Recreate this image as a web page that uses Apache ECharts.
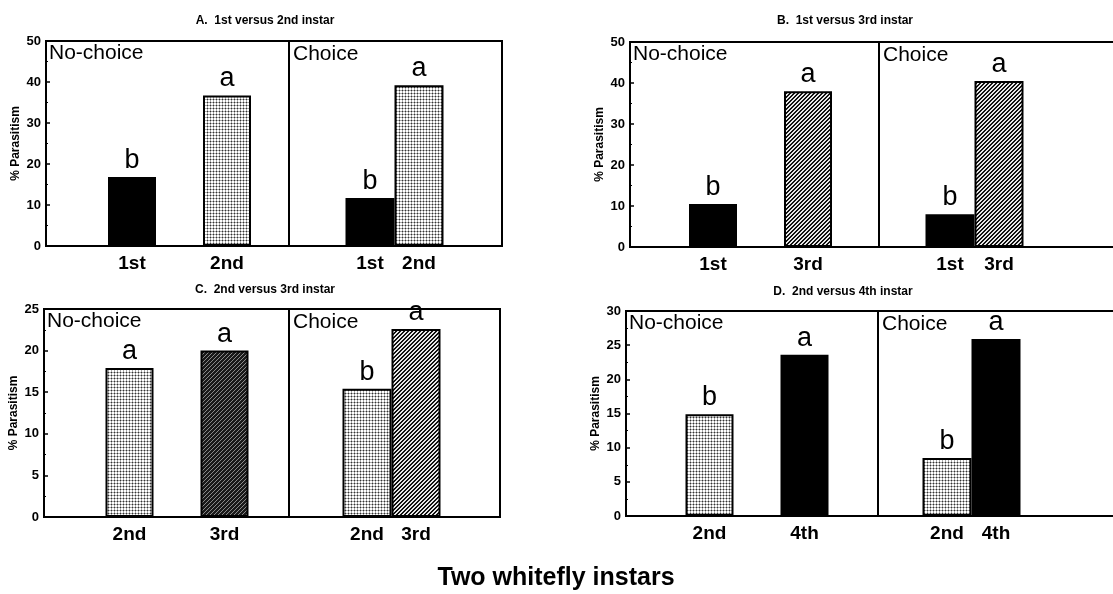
<!DOCTYPE html>
<html>
<head>
<meta charset="utf-8">
<script src="https://cdn.jsdelivr.net/npm/echarts@6/dist/echarts.min.js"></script>
<style>
  html, body { margin: 0; padding: 0; background: #fff; }
  #chart { width: 1113px; height: 594px; }
</style>
</head>
<body>
<div id="chart"></div>
<script>
// panel titles and y scales
const panelTitles = ['A.  1st versus 2nd instar', 'B.  1st versus 3rd instar', 'C.  2nd versus 3rd instar', 'D.  2nd versus 4th instar']
const yMax = [50, 50, 25, 30]
const yInterval = [10, 10, 5, 5]

// instars compared in each panel
const instarsA = ['1st', '2nd']
const instarsB = ['1st', '3rd']
const instarsC = ['2nd', '3rd']
const instarsD = ['2nd', '4th']

// % parasitism, no-choice and choice
const noChoiceA = [16.8, 36.7]
const choiceA = [11.7, 39.2]
const noChoiceB = [10.5, 38.0]
const choiceB = [8.0, 40.5]
const noChoiceC = [17.9, 20.0]
const choiceC = [15.4, 22.6]
const noChoiceD = [14.9, 23.6]
const choiceD = [8.5, 25.9]

// significance letters
const lettersNoChoiceA = ['b', 'a']
const lettersChoiceA = ['b', 'a']
const lettersNoChoiceB = ['b', 'a']
const lettersChoiceB = ['b', 'a']
const lettersNoChoiceC = ['a', 'a']
const lettersChoiceC = ['b', 'a']
const lettersNoChoiceD = ['b', 'a']
const lettersChoiceD = ['b', 'a']

const mainTitle = 'Two whitefly instars'

const panels = [
  { instars: instarsA, nc: noChoiceA, ch: choiceA, lnc: lettersNoChoiceA, lch: lettersChoiceA },
  { instars: instarsB, nc: noChoiceB, ch: choiceB, lnc: lettersNoChoiceB, lch: lettersChoiceB },
  { instars: instarsC, nc: noChoiceC, ch: choiceC, lnc: lettersNoChoiceC, lch: lettersChoiceC },
  { instars: instarsD, nc: noChoiceD, ch: choiceD, lnc: lettersNoChoiceD, lch: lettersChoiceD },
]

// layout (px): box left, divider, box right, top, bottom, bar grid lefts
// open: the box runs off the right edge of the page
const layout = [
  { left: 46, mid: 289, right: 502, top: 41, bottom: 246, ncLeft: 84.5, chLeft: 345.5, tx: 265, ty: 21, open: false },
  { left: 630, mid: 879, right: 1200, top: 42, bottom: 247, ncLeft: 665.5, chLeft: 925.5, tx: 845, ty: 21, open: true },
  { left: 44, mid: 289, right: 500, top: 309, bottom: 517, ncLeft: 82, chLeft: 342.5, tx: 265, ty: 290, open: false },
  { left: 626, mid: 878, right: 1200, top: 311, bottom: 516, ncLeft: 662, chLeft: 922.5, tx: 843, ty: 292, open: true },
]

const FONT = 'Liberation Sans'

function makePattern(size, paint) {
  const c = document.createElement('canvas')
  c.width = size
  c.height = size
  const g = c.getContext('2d')
  paint(g)
  return { image: c, repeat: 'repeat' }
}

const stipple = makePattern(3, (g) => {
  g.fillStyle = '#fff'
  g.fillRect(0, 0, 3, 3)
  g.fillStyle = '#a8a8a8'
  g.fillRect(0, 0, 3, 1)
  g.fillRect(0, 0, 1, 3)
  g.fillStyle = '#333'
  g.fillRect(0, 0, 1, 1)
})
const hatch = makePattern(4, (g) => {
  g.fillStyle = '#e8e8e8'
  g.fillRect(0, 0, 4, 4)
  g.fillStyle = '#111'
  for (let x = 0; x < 4; x++) {
    for (let y = 0; y < 4; y++) {
      if ((x + y) % 4 === 2 || (x + y) % 4 === 3) g.fillRect(x, y, 1, 1)
    }
  }
})
const darkHatch = makePattern(4, (g) => {
  g.fillStyle = '#8a8a8a'
  g.fillRect(0, 0, 4, 4)
  g.fillStyle = '#1a1a1a'
  for (let x = 0; x < 4; x++) {
    for (let y = 0; y < 4; y++) {
      if ((x + y) % 4 !== 0) g.fillRect(x, y, 1, 1)
    }
  }
})
const fills = { '1st': '#000', '2nd': stipple, '3rd': hatch, '4th': '#000' }

const grid = []
const xAxis = []
const yAxis = []
const series = []
const graphic = []
const extraX = [] // top edge lines of open boxes

const lineOnly = (gi, pos) => ({
  gridIndex: gi, type: 'value', position: pos, min: 0, max: 1,
  axisLine: { show: true, onZero: false, lineStyle: { color: '#000', width: 2 } },
  axisTick: { show: false }, axisLabel: { show: false }, splitLine: { show: false },
})

panels.forEach((p, i) => {
  const L = layout[i]
  const h = L.bottom - L.top
  const boxes = [
    { left: L.left, width: L.mid - L.left },
    { left: L.mid, width: L.right - L.mid },
    { left: L.ncLeft, width: 190 },
    { left: L.chLeft, width: 98 },
  ]
  boxes.forEach((b, k) => {
    const gi = grid.length
    const openBox = k === 1 && L.open
    grid.push({
      left: b.left, top: L.top, width: b.width, height: h,
      show: k < 2 && !openBox, borderColor: '#000', borderWidth: 2,
    })
    if (openBox) {
      xAxis.push(lineOnly(gi, 'bottom'))
      extraX.push(lineOnly(gi, 'top'))
    } else if (k < 2) {
      xAxis.push({ gridIndex: gi, type: 'value', show: false })
    } else {
      xAxis.push({
        gridIndex: gi, type: 'category', data: p.instars,
        axisLine: { show: false }, axisTick: { show: false },
        axisLabel: { margin: 8, color: '#000', fontFamily: FONT, fontWeight: 'bold', fontSize: 19 },
      })
    }
    yAxis.push({
      gridIndex: gi, type: 'value', min: 0, max: yMax[i], interval: yInterval[i],
      show: k === 0,
      name: k === 0 ? '% Parasitism' : '',
      nameLocation: 'middle', nameGap: 24,
      nameTextStyle: { color: '#000', fontFamily: FONT, fontWeight: 'bold', fontSize: 12 },
      axisLine: { show: true, lineStyle: { color: '#000', width: 2 } },
      axisTick: { show: true, inside: true, length: 4, lineStyle: { color: '#000', width: 1.5 } },
      minorTick: { show: true, splitNumber: 2, length: 2, lineStyle: { color: '#000' } },
      splitLine: { show: false },
      axisLabel: { margin: 5, color: '#000', fontFamily: FONT, fontWeight: 'bold', fontSize: 13 },
    })
    if (k >= 2) {
      const vals = k === 2 ? p.nc : p.ch
      const letters = k === 2 ? p.lnc : p.lch
      series.push({
        type: 'bar', xAxisIndex: gi, yAxisIndex: gi,
        barWidth: k === 2 ? 48 : 49,
        barCategoryGap: 0,
        data: vals.map((v, j) => {
          let fill = fills[p.instars[j]]
          if (i === 2 && k === 2 && p.instars[j] === '3rd') fill = darkHatch
          return { value: v, itemStyle: { color: fill } }
        }),
        itemStyle: { borderColor: '#000', borderWidth: 2 },
        label: {
          show: true, position: 'top', distance: 3,
          formatter: (d) => letters[d.dataIndex],
          color: '#000', fontFamily: FONT, fontSize: 27,
        },
        silent: true,
      })
    }
  })
  graphic.push({
    type: 'text', x: L.tx, y: L.ty,
    style: { text: panelTitles[i], fill: '#000', font: 'bold 12px "' + FONT + '"', align: 'center', verticalAlign: 'middle' },
  })
  graphic.push({
    type: 'text', x: L.left + 3, y: L.top + 12,
    style: { text: 'No-choice', fill: '#000', font: '21px "' + FONT + '"', align: 'left', verticalAlign: 'middle' },
  })
  graphic.push({
    type: 'text', x: L.mid + 4, y: L.top + 13,
    style: { text: 'Choice', fill: '#000', font: '21px "' + FONT + '"', align: 'left', verticalAlign: 'middle' },
  })
})

graphic.push({
  type: 'text', x: 556, y: 578,
  style: { text: mainTitle, fill: '#000', font: 'bold 25px "' + FONT + '"', align: 'center', verticalAlign: 'middle' },
})

const chart = echarts.init(document.getElementById('chart'))
chart.setOption({
  animation: false,
  backgroundColor: '#fff',
  grid,
  xAxis: xAxis.concat(extraX),
  yAxis,
  series,
  graphic,
})
</script>
</body>
</html>
